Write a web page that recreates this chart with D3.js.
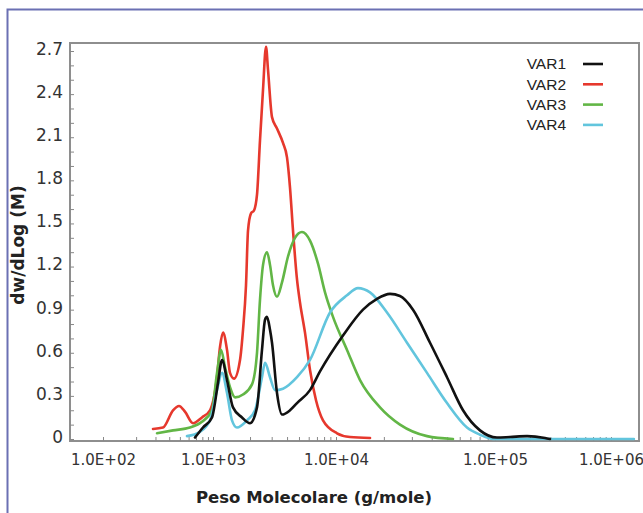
<!DOCTYPE html>
<html><head><meta charset="utf-8">
<script src="https://cdn.jsdelivr.net/npm/d3@7"></script>
<style>body{margin:0;background:#fff}svg{display:block}</style>
</head><body>
<svg id="c" width="643" height="513"></svg>
<script>
// ---- data (M in g/mole, dw/dLog(M)) ----
const seriesNames = ["VAR1", "VAR2", "VAR3", "VAR4"];
const seriesColors = ["#111111", "#e6382d", "#62b646", "#62c5dd"];

const var1M = [686, 811, 979, 1098, 1184, 1300, 1454, 1721, 2000, 2279, 2502, 2648, 2748, 2907, 3018, 3314, 3639, 4227, 4819, 6147, 7411, 11070, 14790, 18110, 21860, 25260, 30500, 39020, 49900, 62930, 80480, 104000, 134700, 188800, 269800, 297900];
const var1Y = [0.01, 0.08, 0.15, 0.39, 0.55, 0.41, 0.22, 0.15, 0.11, 0.22, 0.62, 0.83, 0.85, 0.76, 0.67, 0.32, 0.17, 0.20, 0.25, 0.34, 0.47, 0.72, 0.90, 0.975, 1.01, 0.995, 0.90, 0.67, 0.43, 0.20, 0.06, 0.01, 0.014, 0.02, 0.007, 0.0];

const var2M = [285, 351, 433, 491, 556, 658, 794, 939, 1078, 1140, 1206, 1300, 1375, 1482, 1658, 1754, 1855, 1926, 2037, 2154, 2279, 2411, 2550, 2697, 2800, 3018, 3314, 3707, 3996, 4227, 4472, 4819, 5096, 5597, 6147, 6877, 7841, 10150, 12250, 16370];
const var2Y = [0.07, 0.08, 0.20, 0.23, 0.19, 0.11, 0.15, 0.20, 0.43, 0.64, 0.74, 0.62, 0.46, 0.42, 0.55, 0.76, 1.07, 1.45, 1.57, 1.59, 1.70, 2.08, 2.43, 2.73, 2.57, 2.24, 2.16, 2.06, 1.96, 1.75, 1.45, 1.11, 0.95, 0.74, 0.48, 0.27, 0.13, 0.04, 0.014, 0.007];

const var3M = [310, 433, 618, 794, 979, 1078, 1161, 1252, 1375, 1510, 1754, 2075, 2279, 2411, 2550, 2748, 2909, 3075, 3314, 3639, 4072, 4642, 5291, 6147, 7140, 8140, 9454, 11730, 14160, 18910, 25260, 37360, 54420];
const var3Y = [0.04, 0.06, 0.08, 0.12, 0.20, 0.46, 0.62, 0.50, 0.36, 0.29, 0.31, 0.38, 0.60, 0.97, 1.21, 1.30, 1.21, 1.07, 0.99, 1.09, 1.27, 1.40, 1.44, 1.38, 1.22, 1.02, 0.85, 0.62, 0.41, 0.22, 0.10, 0.02, 0.0];

const var4M = [580, 762, 939, 1078, 1184, 1300, 1427, 1567, 1890, 2196, 2502, 2648, 2907, 3192, 3707, 4819, 6147, 8937, 11730, 13750, 16360, 20930, 27960, 37360, 49900, 66650, 80480, 97140, 164300, 803000, 1550000];
const var4Y = [0.02, 0.05, 0.13, 0.34, 0.46, 0.32, 0.13, 0.08, 0.13, 0.20, 0.43, 0.53, 0.43, 0.34, 0.35, 0.43, 0.55, 0.88, 1.00, 1.05, 1.02, 0.88, 0.67, 0.46, 0.25, 0.08, 0.03, 0.0, 0.0, 0.0, 0.0];

const xTickValues = [1e2, 1e3, 1e4, 1e5, 1e6];
const xTickLabels = ["1.0E+02", "1.0E+03", "1.0E+04", "1.0E+05", "1.0E+06"];
const yTickValues = [0, 0.3, 0.6, 0.9, 1.2, 1.5, 1.8, 2.1, 2.4, 2.7];
const yTickLabels = ["0", "0.3", "0.6", "0.9", "1.2", "1.5", "1.8", "2.1", "2.4", "2.7"];
const xTitle = "Peso Molecolare (g/mole)";
const yTitle = "dw/dLog (M)";

// ---- layout ----
const svg = d3.select("#c");
const L = 70, R = 639, T = 43, B = 441;

// outer frame (left + top visible)
svg.append("path").attr("d", `M7.5,513 L7.5,9.5 L643,9.5`)
  .attr("fill", "none").attr("stroke", "#6b70b3").attr("stroke-width", 2);

const x = d3.scaleLog()
  .domain([50.1, 1e2, 1e3, 1e4, 1e5, 1e6, 1.71e6])
  .range([L, 103, 213, 336, 495, 611, R]);
const y = d3.scaleLinear().domain([0, 2.7]).range([439, 51]);

// plot box
svg.append("rect").attr("x", L).attr("y", T).attr("width", R - L).attr("height", B - T)
  .attr("fill", "none").attr("stroke", "#8e8e8e").attr("stroke-width", 2);

// minor x ticks
const minorX = [];
[100, 1e3, 1e4, 1e5, 1e6].forEach(d => { for (let k = 2; k <= 9; k++) { const v = d * k; if (v < 1.7e6) minorX.push(v); } });
const gxMinor = svg.append("g").attr("transform", `translate(0,${B})`)
  .call(d3.axisBottom(x).tickValues(minorX.concat(xTickValues)).tickSize(-4).tickFormat(""));
gxMinor.select(".domain").remove();
gxMinor.selectAll("line").attr("stroke", "#888").attr("stroke-width", 1);

// x labels
const gx = svg.append("g").attr("transform", `translate(0,${B})`)
  .call(d3.axisBottom(x).tickValues(xTickValues).tickSize(0).tickPadding(13)
    .tickFormat((d, i) => xTickLabels[i]));
gx.select(".domain").remove();
gx.selectAll("text").attr("font-family", "DejaVu Sans").attr("font-size", 15).attr("fill", "#333");

// minor y ticks
const minorY = d3.range(0, 28).map(i => i / 10);
const gyMinor = svg.append("g").attr("transform", `translate(${L},0)`)
  .call(d3.axisLeft(y).tickValues(minorY).tickSize(-4).tickFormat(""));
gyMinor.select(".domain").remove();
gyMinor.selectAll("line").attr("stroke", "#888").attr("stroke-width", 1);

// y labels
const gy = svg.append("g").attr("transform", `translate(${L},0)`)
  .call(d3.axisLeft(y).tickValues(yTickValues).tickSize(0).tickPadding(7)
    .tickFormat((d, i) => yTickLabels[i]));
gy.select(".domain").remove();
gy.selectAll("text").attr("font-family", "DejaVu Sans").attr("font-size", 17).attr("fill", "#333")
  .attr("dy", "0.2em");

// titles
svg.append("text").attr("x", 314).attr("y", 503).attr("text-anchor", "middle")
  .attr("font-family", "DejaVu Sans").attr("font-weight", "bold").attr("font-size", 16.5)
  .attr("fill", "#222").text(xTitle);
svg.append("text").attr("transform", "translate(24,245) rotate(-90)").attr("text-anchor", "middle")
  .attr("font-family", "DejaVu Sans").attr("font-weight", "bold").attr("font-size", 17)
  .attr("fill", "#222").text(yTitle);

// curves
const allM = [var1M, var2M, var3M, var4M];
const allY = [var1Y, var2Y, var3Y, var4Y];
const line = d3.line().x(d => x(d[0])).y(d => y(d[1])).curve(d3.curveMonotoneX);
const drawOrder = [1, 2, 3, 0];
drawOrder.forEach(i => {
  const pts = allM[i].map((m, j) => [m, allY[i][j]]);
  svg.append("path").datum(pts).attr("d", line)
    .attr("fill", "none").attr("stroke", seriesColors[i]).attr("stroke-width", 2.6)
    .attr("stroke-linejoin", "round").attr("stroke-linecap", "round");
});

// legend
const lg = svg.append("g");
seriesNames.forEach((n, i) => {
  const yy = 64 + i * 20.3;
  lg.append("text").attr("x", 566).attr("y", yy).attr("dy", "0.35em").attr("text-anchor", "end")
    .attr("font-family", "Liberation Sans").attr("font-size", 15.5).attr("fill", "#222").text(n);
  lg.append("line").attr("x1", 583).attr("x2", 603).attr("y1", yy).attr("y2", yy)
    .attr("stroke", seriesColors[i]).attr("stroke-width", 2.6);
});
</script>
</body></html>
